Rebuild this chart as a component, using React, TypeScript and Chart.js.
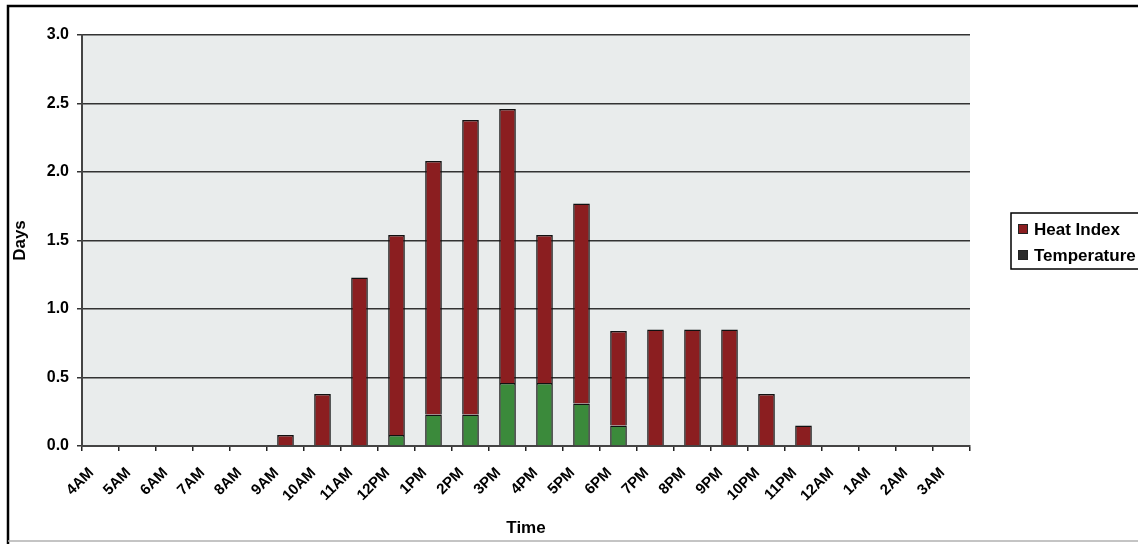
import React, { useEffect, useRef } from "react";
import { Chart, registerables } from "chart.js";

Chart.register(...registerables);

const categories = [
  "4AM", "5AM", "6AM", "7AM", "8AM", "9AM", "10AM", "11AM", "12PM", "1PM", "2PM", "3PM",
  "4PM", "5PM", "6PM", "7PM", "8PM", "9PM", "10PM", "11PM", "12AM", "1AM", "2AM", "3AM",
];

// Temperature (bottom, green segment)
const temperature = [
  0, 0, 0, 0, 0, 0, 0, 0, 0.08, 0.23, 0.23, 0.46,
  0.46, 0.31, 0.15, 0, 0, 0, 0, 0, 0, 0, 0, 0,
];

// Heat Index (stacked on top, red segment)
const heatIndex = [
  0, 0, 0, 0, 0, 0.08, 0.38, 1.23, 1.46, 1.85, 2.15, 2.0,
  1.08, 1.46, 0.69, 0.85, 0.85, 0.85, 0.38, 0.15, 0, 0, 0, 0,
];

const yTicks = [0, 0.5, 1.0, 1.5, 2.0, 2.5, 3.0];

const RED = "#8B1E20";
const GREEN = "#3B8A3B";
const FONT = "'Liberation Sans', Arial, sans-serif";

const framePlugin = {
  id: "frame",
  beforeDraw(chart: any) {
    const { ctx, chartArea } = chart;
    ctx.save();
    ctx.fillStyle = "#ffffff";
    ctx.fillRect(0, 0, chart.width, chart.height);
    ctx.fillStyle = "#e9ecec";
    ctx.fillRect(chartArea.left, chartArea.top, chartArea.right - chartArea.left, chartArea.bottom - chartArea.top);
    ctx.restore();
  },
  afterDraw(chart: any) {
    const { ctx } = chart;
    ctx.save();
    ctx.strokeStyle = "#000";
    ctx.lineWidth = 2.5;
    ctx.beginPath();
    ctx.moveTo(8, 544);
    ctx.lineTo(8, 6);
    ctx.lineTo(1138, 6);
    ctx.stroke();
    ctx.strokeStyle = "#b0b0b0";
    ctx.lineWidth = 1.5;
    ctx.beginPath();
    ctx.moveTo(8, 541);
    ctx.lineTo(1138, 541);
    ctx.stroke();

    // legend (series in stacked order, top first)
    const items = [
      { label: chart.data.datasets[1].label, color: RED },
      { label: chart.data.datasets[0].label, color: "#2a2a2a" },
    ];
    ctx.strokeStyle = "#000";
    ctx.lineWidth = 1.5;
    ctx.strokeRect(1011, 213, 140, 56);
    ctx.font = `bold 17px ${FONT}`;
    ctx.textBaseline = "middle";
    items.forEach((it, i) => {
      const y = 229 + i * 26;
      ctx.fillStyle = it.color;
      ctx.fillRect(1018, y - 5, 10, 10);
      ctx.lineWidth = 1;
      ctx.strokeStyle = "#222";
      ctx.strokeRect(1018.5, y - 4.5, 9, 9);
      ctx.fillStyle = "#000";
      ctx.fillText(it.label, 1034, y + 1);
    });
    ctx.restore();
  },
};

export default function App() {
  const ref = useRef<HTMLCanvasElement>(null);
  useEffect(() => {
    const nz = (a: number[]) => a.map((v) => (v === 0 ? null : v));
    const chart = new Chart(ref.current!, {
      type: "bar",
      data: {
        labels: categories,
        datasets: [
          {
            label: "Temperature",
            data: nz(temperature),
            backgroundColor: GREEN,
            borderColor: "#111",
            borderWidth: 1.5,
            barPercentage: 0.45,
            categoryPercentage: 1,
          },
          {
            label: "Heat Index",
            data: nz(heatIndex),
            backgroundColor: RED,
            borderColor: "#111",
            borderWidth: 1.5,
            barPercentage: 0.45,
            categoryPercentage: 1,
          },
        ],
      },
      options: {
        animation: false,
        responsive: false,
        layout: { padding: { left: 8, right: 168, top: 35, bottom: 0 } },
        plugins: { legend: { display: false }, tooltip: { enabled: false } },
        scales: {
          x: {
            stacked: true,
            offset: true,
            grid: {
              offset: true,
              drawOnChartArea: false,
              drawTicks: true,
              tickLength: 5,
              color: "#222",
              lineWidth: 1.5,
            },
            border: { color: "#444", width: 2 },
            ticks: {
              maxRotation: 45,
              minRotation: 45,
              autoSkip: false,
              color: "#000",
              font: { family: FONT, size: 15, weight: "bold" },
              padding: 13,
              labelOffset: -9,
            },
            title: {
              display: true,
              text: "Time",
              color: "#000",
              font: { family: FONT, size: 17, weight: "bold" },
              padding: { top: 0, bottom: 5 },
            },
            afterFit: (s: any) => {
              s.height = 98;
            },
          },
          y: {
            stacked: true,
            min: 0,
            max: 3,
            afterBuildTicks: (s: any) => {
              s.ticks = yTicks.map((v) => ({ value: v }));
            },
            grid: {
              color: "#333",
              lineWidth: 1.5,
              tickLength: 5,
            },
            border: { color: "#444", width: 2 },
            ticks: {
              color: "#000",
              font: { family: FONT, size: 16, weight: "bold" },
              padding: 8,
              callback: (v: any) => Number(v).toFixed(1),
            },
            title: {
              display: true,
              text: "Days",
              color: "#000",
              font: { family: FONT, size: 17, weight: "bold" },
              padding: { top: 2, bottom: 0 },
            },
            afterFit: (s: any) => {
              s.width = 74;
            },
          },
        },
      },
      plugins: [framePlugin],
    });
    return () => chart.destroy();
  }, []);
  return (
    <div style={{ position: "fixed", left: 0, top: 0, width: 1138, height: 544 }}>
      <canvas ref={ref} width={1138} height={544} style={{ width: 1138, height: 544, display: "block" }} />
    </div>
  );
}
